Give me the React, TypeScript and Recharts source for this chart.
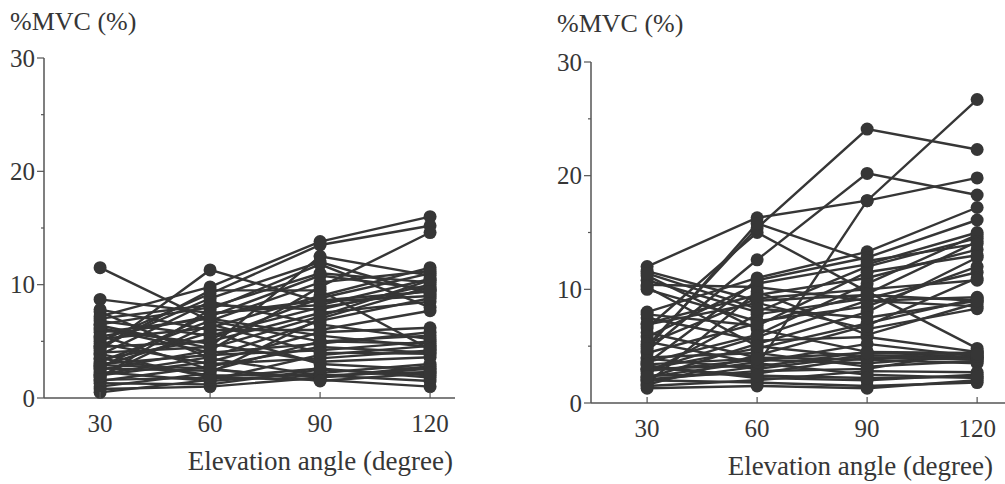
import { LineChart, Line, XAxis, YAxis } from "recharts";

// elevation angles (degree)
const angles = [30, 60, 90, 120];
const yTicks = [0, 5, 10, 15, 20, 25, 30];

// %MVC per subject at 30/60/90/120 degrees, left panel
const leftSubjects: number[][] = [
  [11.5, 6.8, 5.0, 4.8],
  [8.7, 7.5, 8.2, 10.5],
  [7.6, 3.5, 2.0, 2.3],
  [7.2, 9.8, 13.8, 16.0],
  [6.8, 5.5, 8.0, 9.5],
  [6.5, 8.0, 11.0, 10.2],
  [6.2, 4.0, 4.8, 5.8],
  [5.8, 7.0, 5.5, 4.5],
  [5.5, 2.5, 1.8, 2.8],
  [5.2, 6.2, 9.0, 11.5],
  [5.0, 9.2, 13.5, 15.2],
  [4.8, 3.0, 3.5, 4.2],
  [4.5, 5.0, 7.5, 8.5],
  [4.2, 11.3, 8.5, 9.0],
  [4.0, 4.5, 12.5, 10.8],
  [3.8, 8.5, 6.5, 5.2],
  [3.5, 2.0, 2.0, 1.5],
  [3.2, 6.8, 10.2, 11.2],
  [3.0, 3.8, 4.2, 5.0],
  [2.8, 5.8, 3.0, 2.5],
  [2.5, 4.2, 9.8, 14.6],
  [2.3, 1.5, 2.2, 3.0],
  [2.0, 3.2, 5.8, 6.2],
  [1.8, 7.8, 11.8, 8.0],
  [1.6, 1.8, 1.6, 1.0],
  [1.5, 2.8, 4.5, 4.0],
  [1.3, 1.2, 2.5, 2.0],
  [1.0, 2.2, 7.0, 9.8],
  [0.8, 1.0, 1.8, 2.6],
  [0.5, 1.6, 3.8, 4.6],
  [7.8, 6.0, 6.0, 7.7],
  [4.6, 8.8, 12.0, 9.2],
  [3.4, 5.2, 8.8, 11.0],
  [2.6, 2.4, 5.0, 5.5],
  [6.0, 4.8, 3.2, 3.6],
  [2.1, 3.6, 6.8, 8.8],
  [1.9, 6.5, 4.0, 3.9],
  [5.4, 7.2, 10.8, 9.6],
  [3.9, 1.8, 2.6, 1.8],
  [7.0, 8.2, 7.8, 10.0],
  [2.9, 2.6, 1.5, 2.2],
  [4.4, 9.5, 9.5, 4.3],
  [6.4, 4.4, 7.2, 10.4],
  [2.7, 7.4, 8.6, 9.4],
];

// right panel
const rightSubjects: number[][] = [
  [12.0, 16.3, 17.8, 19.8],
  [11.6, 9.0, 9.5, 9.0],
  [11.2, 6.5, 4.5, 4.0],
  [10.8, 8.0, 12.0, 14.5],
  [10.4, 10.2, 9.0, 8.5],
  [10.0, 7.2, 8.5, 12.0],
  [8.0, 11.0, 13.3, 17.2],
  [7.5, 5.5, 5.8, 4.5],
  [7.0, 9.5, 11.0, 13.5],
  [6.6, 15.0, 9.8, 4.8],
  [6.2, 4.0, 3.8, 3.5],
  [5.8, 10.5, 12.2, 15.0],
  [5.4, 3.5, 2.5, 2.2],
  [5.0, 15.4, 24.1, 22.3],
  [4.6, 12.6, 20.2, 18.3],
  [3.0, 3.3, 17.8, 26.7],
  [3.9, 3.0, 4.2, 4.0],
  [3.6, 6.0, 10.5, 14.8],
  [3.3, 2.2, 2.0, 2.5],
  [3.0, 4.8, 7.0, 9.2],
  [2.8, 3.8, 3.5, 4.2],
  [2.6, 7.8, 9.2, 11.5],
  [2.4, 2.6, 4.0, 3.8],
  [2.2, 5.2, 8.0, 12.8],
  [2.0, 1.8, 1.5, 1.8],
  [1.9, 3.2, 4.5, 4.4],
  [1.7, 9.8, 6.0, 8.8],
  [1.5, 2.0, 2.8, 2.7],
  [1.3, 1.5, 1.3, 2.0],
  [7.8, 6.8, 11.5, 13.0],
  [4.0, 4.4, 3.2, 3.7],
  [3.5, 10.8, 12.8, 16.1],
  [2.9, 5.8, 9.0, 9.3],
  [6.9, 8.8, 6.5, 8.3],
  [2.1, 2.8, 3.0, 4.6],
  [1.6, 4.2, 6.8, 11.0],
  [5.2, 9.2, 10.0, 10.8],
  [3.1, 2.4, 2.2, 2.3],
  [11.4, 8.3, 7.5, 9.0],
  [10.2, 5.0, 4.0, 3.9],
  [2.3, 3.6, 5.2, 4.1],
  [4.4, 7.0, 9.6, 14.2],
  [4.8, 15.8, 12.5, 14.0],
  [3.4, 3.9, 4.4, 4.3],
];

const ink = "#363636";
const axisColor = "#555";
const font = "Liberation Serif, DejaVu Serif, serif";
const textStyle = { fontFamily: font };

const buildRows = (subjects: number[][]) =>
  angles.map((a, i) => {
    const row: any = { angle: a };
    subjects.forEach((s, j) => {
      row["s" + j] = s[i];
    });
    return row;
  });

const XTick = ({ x, y, payload }: any) => (
  <g>
    <line x1={x} x2={x} y1={y} y2={y - 6} stroke={axisColor} strokeWidth={1.2} />
    <text x={x} y={y + 34} textAnchor="middle" fontSize={25} style={textStyle} fill={ink}>
      {payload.value}
    </text>
  </g>
);

const YTick = ({ x, y, payload }: any) => {
  const major = payload.value % 10 === 0;
  return (
    <g>
      <line x1={x} x2={x - (major ? 7 : 3)} y1={y} y2={y} stroke={axisColor} strokeWidth={1.2} />
      {major && (
        <text x={x - 9} y={y} dy="0.35em" textAnchor="end" fontSize={25} style={textStyle} fill={ink}>
          {payload.value}
        </text>
      )}
    </g>
  );
};

function Panel({
  subjects,
  left,
  width,
  margin,
  xMax,
  titleDy,
  labelRight,
  labelDy,
}: {
  subjects: number[][];
  left: number;
  width: number;
  margin: { top: number; right: number; left: number; bottom: number };
  xMax: number;
  titleDy: number;
  labelRight: number;
  labelDy: number;
}) {
  const rows = buildRows(subjects);
  return (
    <div style={{ position: "absolute", left, top: 0 }}>
      <LineChart width={width} height={484} data={rows} margin={margin}>
        <XAxis
          dataKey="angle"
          type="number"
          domain={[14.7, xMax]}
          allowDataOverflow
          ticks={angles}
          height={40}
          tickSize={0}
          tickMargin={0}
          tickLine={false}
          tick={<XTick />}
          axisLine={{ stroke: axisColor, strokeWidth: 1.5 }}
          label={({ viewBox }: any) => (
            <text
              x={viewBox.x + viewBox.width - labelRight}
              y={viewBox.y + labelDy}
              textAnchor="end"
              fontSize={27}
              style={textStyle}
              fill={ink}
            >
              Elevation angle (degree)
            </text>
          )}
        />
        <YAxis
          type="number"
          domain={[0, 30]}
          ticks={yTicks}
          width={40}
          interval={0}
          tickSize={0}
          tickMargin={0}
          tickLine={false}
          tick={<YTick />}
          axisLine={{ stroke: axisColor, strokeWidth: 1.5 }}
          label={({ viewBox }: any) => (
            <text
              x={viewBox.x + viewBox.width - 34}
              y={viewBox.y - titleDy}
              fontSize={26}
              style={textStyle}
              fill={ink}
            >
              %MVC (%)
            </text>
          )}
        />
        {subjects.map((_, j) => (
          <Line
            key={j}
            dataKey={"s" + j}
            stroke={ink}
            strokeWidth={2.4}
            dot={{ r: 6.5, fill: ink, stroke: "none" }}
            activeDot={false}
            isAnimationActive={false}
          />
        ))}
      </LineChart>
    </div>
  );
}

export default function App() {
  return (
    <div style={{ position: "absolute", left: 0, top: 0, width: 1005, height: 484, background: "#fff", overflow: "hidden" }}>
      <Panel
        subjects={leftSubjects}
        left={0}
        width={480}
        margin={{ top: 58, right: 25, left: 4, bottom: 46 }}
        xMax={126.8}
        titleDy={28}
        labelRight={2}
        labelDy={72}
      />
      <Panel
        subjects={rightSubjects}
        left={520}
        width={485}
        margin={{ top: 62, right: 0, left: 31, bottom: 41 }}
        xMax={127.6}
        titleDy={30}
        labelRight={12}
        labelDy={72}
      />
    </div>
  );
}
